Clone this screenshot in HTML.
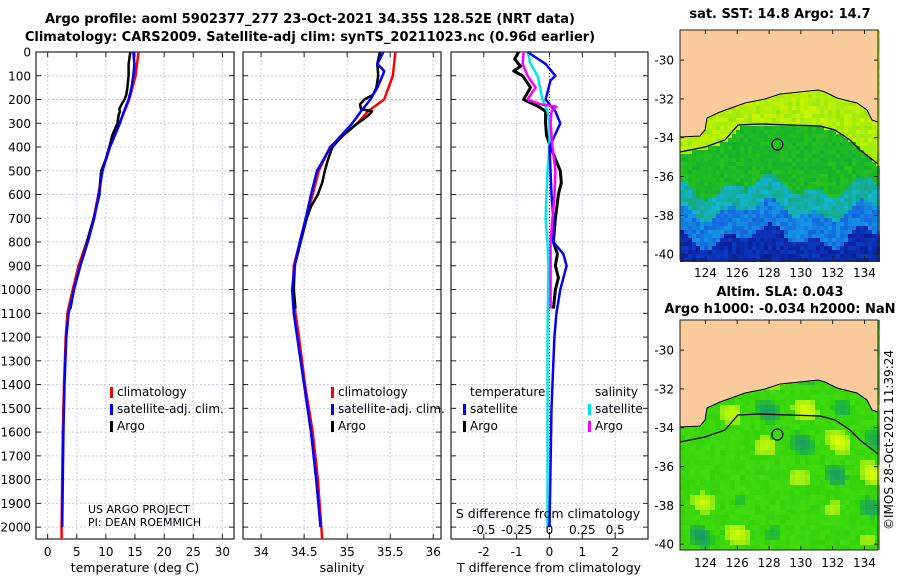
<!DOCTYPE html>
<html><head><meta charset="utf-8"><style>
html,body{margin:0;padding:0;background:#fff;}
svg{display:block;font-family:"DejaVu Sans","Liberation Sans",sans-serif;}
</style></head><body>
<svg id="fig" width="900" height="580" viewBox="0 0 900 580">
<text x="310" y="23" font-size="13" font-weight="bold" text-anchor="middle">Argo profile: aoml 5902377_277 23-Oct-2021 34.35S 128.52E (NRT data)</text>
<text x="310" y="41" font-size="13" font-weight="bold" text-anchor="middle">Climatology: CARS2009. Satellite-adj clim: synTS_20211023.nc (0.96d earlier)</text>
<text x="780" y="18" font-size="13" font-weight="bold" text-anchor="middle">sat. SST: 14.8 Argo: 14.7</text>
<text x="780" y="296" font-size="13" font-weight="bold" text-anchor="middle">Altim. SLA: 0.043</text>
<text x="780" y="313" font-size="13" font-weight="bold" text-anchor="middle">Argo h1000: -0.034 h2000: NaN</text>
<text transform="translate(893,440) rotate(-90)" font-size="12" text-anchor="middle">©IMOS 28-Oct-2021 11:39:24</text>
<g id="g"></g>
</svg>
<script>
// ---- data ----
const depthTicks=[0,100,200,300,400,500,600,700,800,900,1000,1100,1200,1300,1400,1500,1600,1700,1800,1900,2000];
const tempTicks=[0,5,10,15,20,25,30];
const salTicks=[34,34.5,35,35.5,36];
const tdiffTicks=[-2,-1,0,1,2];
const sdiffTicks=[-0.5,-0.25,0,0.25,0.5];
const lonTicks=[124,126,128,130,132,134];
const latTicks=[-30,-32,-34,-36,-38,-40];

const climDepth=[0,100,200,250,300,400,500,600,700,800,900,1000,1100,1200,1400,1600,1800,2000,2050];
const climTemp=[15.6,15.1,14.0,13.2,12.3,10.6,9.4,8.7,7.9,6.7,5.3,4.3,3.4,3.1,2.8,2.6,2.5,2.4,2.4];
const climSal=[35.56,35.53,35.43,35.24,35.12,34.80,34.67,34.60,34.52,34.45,34.38,34.37,34.40,34.44,34.51,34.60,34.66,34.70,34.71];
const satDepth=[0,50,80,100,150,200,250,300,400,500,600,700,800,900,1000,1100,1200,1400,1600,1800,2000];
const satTemp=[14.7,14.9,14.8,14.7,14.4,13.9,13.1,12.4,10.7,9.4,8.8,8.0,6.9,5.6,4.5,3.6,3.2,2.9,2.7,2.6,2.5];
const satSal=[35.42,35.35,35.43,35.41,35.35,35.27,35.16,35.06,34.81,34.65,34.58,34.52,34.45,34.39,34.36,34.38,34.42,34.50,34.58,34.64,34.69];
const argoDepth=[0,50,100,150,180,200,220,240,250,265,280,300,350,400,450,500,550,600,650,700,800,900,1000,1080];
const argoTemp=[14.2,13.9,13.9,13.7,13.5,13.2,12.7,12.3,12.4,12.2,12.1,12.0,11.1,10.6,10.0,9.2,9.0,8.9,8.4,7.9,6.8,5.6,4.5,3.9];
const argoSal=[35.38,35.35,35.36,35.34,35.30,35.20,35.15,35.16,35.29,35.25,35.20,35.12,34.95,34.83,34.78,34.74,34.71,34.66,34.58,34.53,34.46,34.39,34.38,34.40];

const tSatDiffDepth=[0,50,100,120,200,250,300,400,500,600,700,800,850,900,1000,1100,1200,1500,2000];
const tSatDiff=[-0.67,-0.12,0.18,0.03,-0.12,0.18,0.33,0,0.03,0.06,0.12,0.12,0.42,0.52,0.33,0.21,0.15,0.06,0];
const tArgoDiffDepth=[0,30,60,80,100,150,200,230,250,300,350,400,450,500,550,600,700,800,850,900,950,1000,1080];
const tArgoDiff=[-0.94,-1.06,-0.88,-1.09,-0.82,-0.58,-0.79,-0.33,-0.12,-0.12,-0.09,0.03,0.18,0.33,0.36,0.27,0.18,0.12,0.24,0.18,0.27,0.18,0.12];
const sSatDiffDepth=[0,50,100,200,250,300,400,500,600,700,800,900,1200,2000];
const sSatDiff=[-0.167,-0.144,-0.091,-0.053,-0.015,0,0,-0.015,-0.023,-0.03,-0.015,-0.008,-0.015,-0.015];
const sArgoDiffDepth=[0,50,100,150,180,200,220,230,250,300,400,500,600,700,800,1000,1080];
const sArgoDiff=[-0.197,-0.205,-0.167,-0.106,-0.144,-0.167,-0.068,0.053,0.015,0.008,0.023,0.045,0.038,0.023,0.008,0.008,0.008];

const argoLon=128.52, argoLat=-34.35;

// ---- helpers ----
const NS='http://www.w3.org/2000/svg';
const G=document.getElementById('g');
function mk(tag,attrs,parent){const e=document.createElementNS(NS,tag);for(const k in attrs)e.setAttribute(k,attrs[k]);(parent||G).appendChild(e);return e;}
function txt(x,y,s,size,anchor,parent){const t=mk('text',{x:x,y:y,'font-size':size,'text-anchor':anchor||'middle'},parent);t.textContent=s;return t;}

const TOP=52, BOT=539, DMAX=2050;
const yD=d=>TOP+d*(BOT-TOP)/DMAX;
const panels=[
 {x0:36,x1:234,lo:-2,hi:32,name:'temperature-panel'},
 {x0:243,x1:441,lo:33.79,hi:36.09,name:'salinity-panel'},
 {x0:451,x1:648,lo:-3,hi:3,name:'difference-panel'}];
const sx=(p,v)=>p.x0+(v-p.lo)*(p.x1-p.x0)/(p.hi-p.lo);
const sxS=v=>sx(panels[2],v*4);

function frame(p,ticks,labels){
  const g=mk('g',{});
  
  
  depthTicks.forEach(d=>{const y=yD(d);
    const l=mk('line',{x1:p.x0,x2:p.x1,y1:y,y2:y,stroke:'#c9cce6','stroke-width':1,'stroke-dasharray':'2,2'},g);
    
    mk('line',{x1:p.x0,x2:p.x0+5,y1:y,y2:y,stroke:'#222'},g);mk('line',{x1:p.x1,x2:p.x1-5,y1:y,y2:y,stroke:'#222'},g);});
  ticks.forEach((v,i)=>{const x=sx(p,v);
    const l=mk('line',{x1:x,x2:x,y1:TOP,y2:BOT,stroke:'#c9cce6','stroke-width':1,'stroke-dasharray':'2,2'},g);
    
    mk('line',{x1:x,x2:x,y1:BOT,y2:BOT-5,stroke:'#222'},g);mk('line',{x1:x,x2:x,y1:TOP,y2:TOP+5,stroke:'#222'},g);
    const t=txt(x,556,labels[i],12,'middle',g);});
  const r=mk('rect',{x:p.x0,y:TOP,width:p.x1-p.x0,height:BOT-TOP,fill:'none',stroke:'#222','stroke-width':1.2},g);
  
  return g;
}
function line(p,xs,ds,color,w,name,scale){
  const pts=xs.map((v,i)=>(scale?scale(v):sx(p,v)).toFixed(1)+','+yD(ds[i]).toFixed(1)).join(' ');
  const l=mk('polyline',{points:pts,fill:'none',stroke:color,'stroke-width':w,'stroke-linejoin':'round'});
  
  
}

depthTicks.forEach(d=>{const t=txt(31,yD(d)+4.5,String(d),12,'end');
  
  });

frame(panels[0],tempTicks,tempTicks.map(String));
frame(panels[1],salTicks,salTicks.map(String));
frame(panels[2],tdiffTicks,tdiffTicks.map(String));
const zl=mk('line',{x1:sx(panels[2],0),x2:sx(panels[2],0),y1:TOP,y2:BOT,stroke:'#333','stroke-dasharray':'1,2'});


line(panels[0],climTemp,climDepth,'#ff0000',2.5,'temp-climatology-line');
line(panels[0],argoTemp,argoDepth,'#000',2.5,'temp-argo-line');
line(panels[0],satTemp,satDepth,'#0000ff',2.5,'temp-satellite-line');
line(panels[1],climSal,climDepth,'#ff0000',2.5,'sal-climatology-line');
line(panels[1],argoSal,argoDepth,'#000',2.5,'sal-argo-line');
line(panels[1],satSal,satDepth,'#0000ff',2.5,'sal-satellite-line');
line(panels[2],tArgoDiff,tArgoDiffDepth,'#000',3,'tdiff-argo-line');
line(panels[2],sSatDiff,sSatDiffDepth,'#00e5ee',2.5,'sdiff-satellite-line',sxS);
line(panels[2],tSatDiff,tSatDiffDepth,'#0000ff',2.5,'tdiff-satellite-line');
line(panels[2],sArgoDiff,sArgoDiffDepth,'#ff00ff',2.5,'sdiff-argo-line',sxS);

function leg(x,y,color,label,name){const g=mk('g',{});
  
  mk('rect',{x:x,y:y-9,width:3,height:11,fill:color},g);txt(x+7,y,label,12,'start',g);}
leg(110,396,'#ff0000','climatology','legend-temp-climatology');
leg(110,413,'#0000ff','satellite-adj. clim.','legend-temp-satellite');
leg(110,430,'#000','Argo','legend-temp-argo');
leg(331,396,'#ff0000','climatology','legend-sal-climatology');
leg(331,413,'#0000ff','satellite-adj. clim.','legend-sal-satellite');
leg(331,430,'#000','Argo','legend-sal-argo');
let t=txt(470,396,'temperature',12,'start');
t=txt(595,396,'salinity',12,'start');
leg(463,413,'#0000ff','satellite','legend-tdiff-satellite');
leg(463,430,'#000','Argo','legend-tdiff-argo');
leg(588,413,'#00e5ee','satellite','legend-sdiff-satellite');
leg(588,430,'#ff00ff','Argo','legend-sdiff-argo');

t=txt(88,513,'US ARGO PROJECT',11,'start');
t=txt(88,526,'PI: DEAN ROEMMICH',11,'start');
t=txt(548,518,'S difference from climatology',12.5,'middle');
sdiffTicks.forEach(v=>{const e=txt(sxS(v),534,String(v),12,'middle');
  });
t=txt(135,572,'temperature (deg C)',12.5);
t=txt(342,572,'salinity',12.5);
t=txt(549,572,'T difference from climatology',12.5);

// ---- maps ----
function hash(i,j,k){let h=(i*374761393+j*668265263+k*982451653)|0;h=(h^(h>>>13))*1274126177|0;return ((h^(h>>>16))>>>0)/4294967296;}
const coast=[[680,137],[700,136],[705,130],[707,118],[720,112],[745,103],[765,99],[780,94],[790,93],[818,90],[825,92],[837,98],[857,103],[867,110],[872,120],[878,122]];
const contour=[[680,152],[705,147],[725,140],[738,125],[760,124],[820,126],[835,130],[850,140],[860,150],[878,164]];
function mix(a,b,t){return a.map((v,i)=>Math.round(v+(b[i]-v)*t));}
function drawMap(top,kind,name){
  const L=680,R=878,B=top+230;
  const g=mk('g',{});
  const cs=kind===1?4:5;
  for(let y=top;y<B;y+=cs){for(let x=L;x<R;x+=cs){
    let c;const r=hash(x,y,kind);const yy=y-top;
    if(kind===1){
      let cy=152;for(let i=0;i<contour.length-1;i++){if(x>=contour[i][0]&&x<=contour[i+1][0]){const f=(x-contour[i][0])/(contour[i+1][0]-contour[i][0]);cy=contour[i][1]+f*(contour[i+1][1]-contour[i][1]);}}
      const wave=8*Math.sin(x/18)+6*Math.cos(x/7);
      if(yy<cy-top) c=mix([200,245,0],[140,230,20],r*0.8);
      else if(yy<155+wave) c=mix([20,175,45],[40,195,30],r);
      else if(yy<178+wave) c=mix([20,170,130],[20,180,220],r);
      else if(yy<205+wave) c=mix([20,150,230],[20,100,220],r);
      else c=mix([10,60,200],[10,30,150],r);
    } else {
      const p=Math.sin(x/11+1)*Math.cos(y/10)+0.5*Math.sin((x-y)/15);
      const q=r*0.25;
      c=p>0.75?mix([130,230,20],[185,245,10],(p-0.75)*2+q):p<-0.8?mix([40,200,30],[30,170,80],(-0.8-p)*2+q):mix([50,210,10],[65,220,15],r);
    }
    mk('rect',{x:x,y:y,width:cs,height:cs,fill:'rgb('+c.join(',')+')'},g);
  }}
  const off=top-30;
  const landPts=[[L,top]].concat(coast.map(p=>[p[0],p[1]+off])).concat([[R,top]]);
  const land=mk('polygon',{points:landPts.map(p=>p.join(',')).join(' '),fill:'#fbcb9b',stroke:'#000','stroke-width':1},g);
  
  mk('line',{x1:L,x2:L,y1:top,y2:top+coast[0][1]-30,stroke:'#fbcb9b'},g);
  const cl=mk('polyline',{points:contour.map(p=>p[0]+','+(p[1]+off)).join(' '),fill:'none',stroke:'#000','stroke-width':1.3},g);
  
  const lonS=v=>L+(v-122.4)*(R-L)/(134.85-122.4);
  const latS=v=>top+(-28.45-v)*230/(40.3-28.45);
  const m=mk('circle',{cx:lonS(argoLon),cy:latS(argoLat),r:5.5,fill:'none',stroke:'#000','stroke-width':1.2},g);
  
  mk('rect',{x:L,y:top,width:R-L,height:230,fill:'none',stroke:'#222'},g);
  lonTicks.forEach(v=>{const x=lonS(v);mk('line',{x1:x,x2:x,y1:B,y2:B-4,stroke:'#222'},g);mk('line',{x1:x,x2:x,y1:top,y2:top+4,stroke:'#222'},g);
    const e=txt(x,B+17,String(v),12,'middle',g);});
  latTicks.forEach(v=>{const y=latS(v);mk('line',{x1:L,x2:L+4,y1:y,y2:y,stroke:'#222'},g);mk('line',{x1:R,x2:R-4,y1:y,y2:y,stroke:'#222'},g);
    const e=txt(L-6,y+4.5,String(v),12,'end',g);});
}
drawMap(30,1,'sst-map');
drawMap(320,2,'sla-map');
</script>
</body></html>
